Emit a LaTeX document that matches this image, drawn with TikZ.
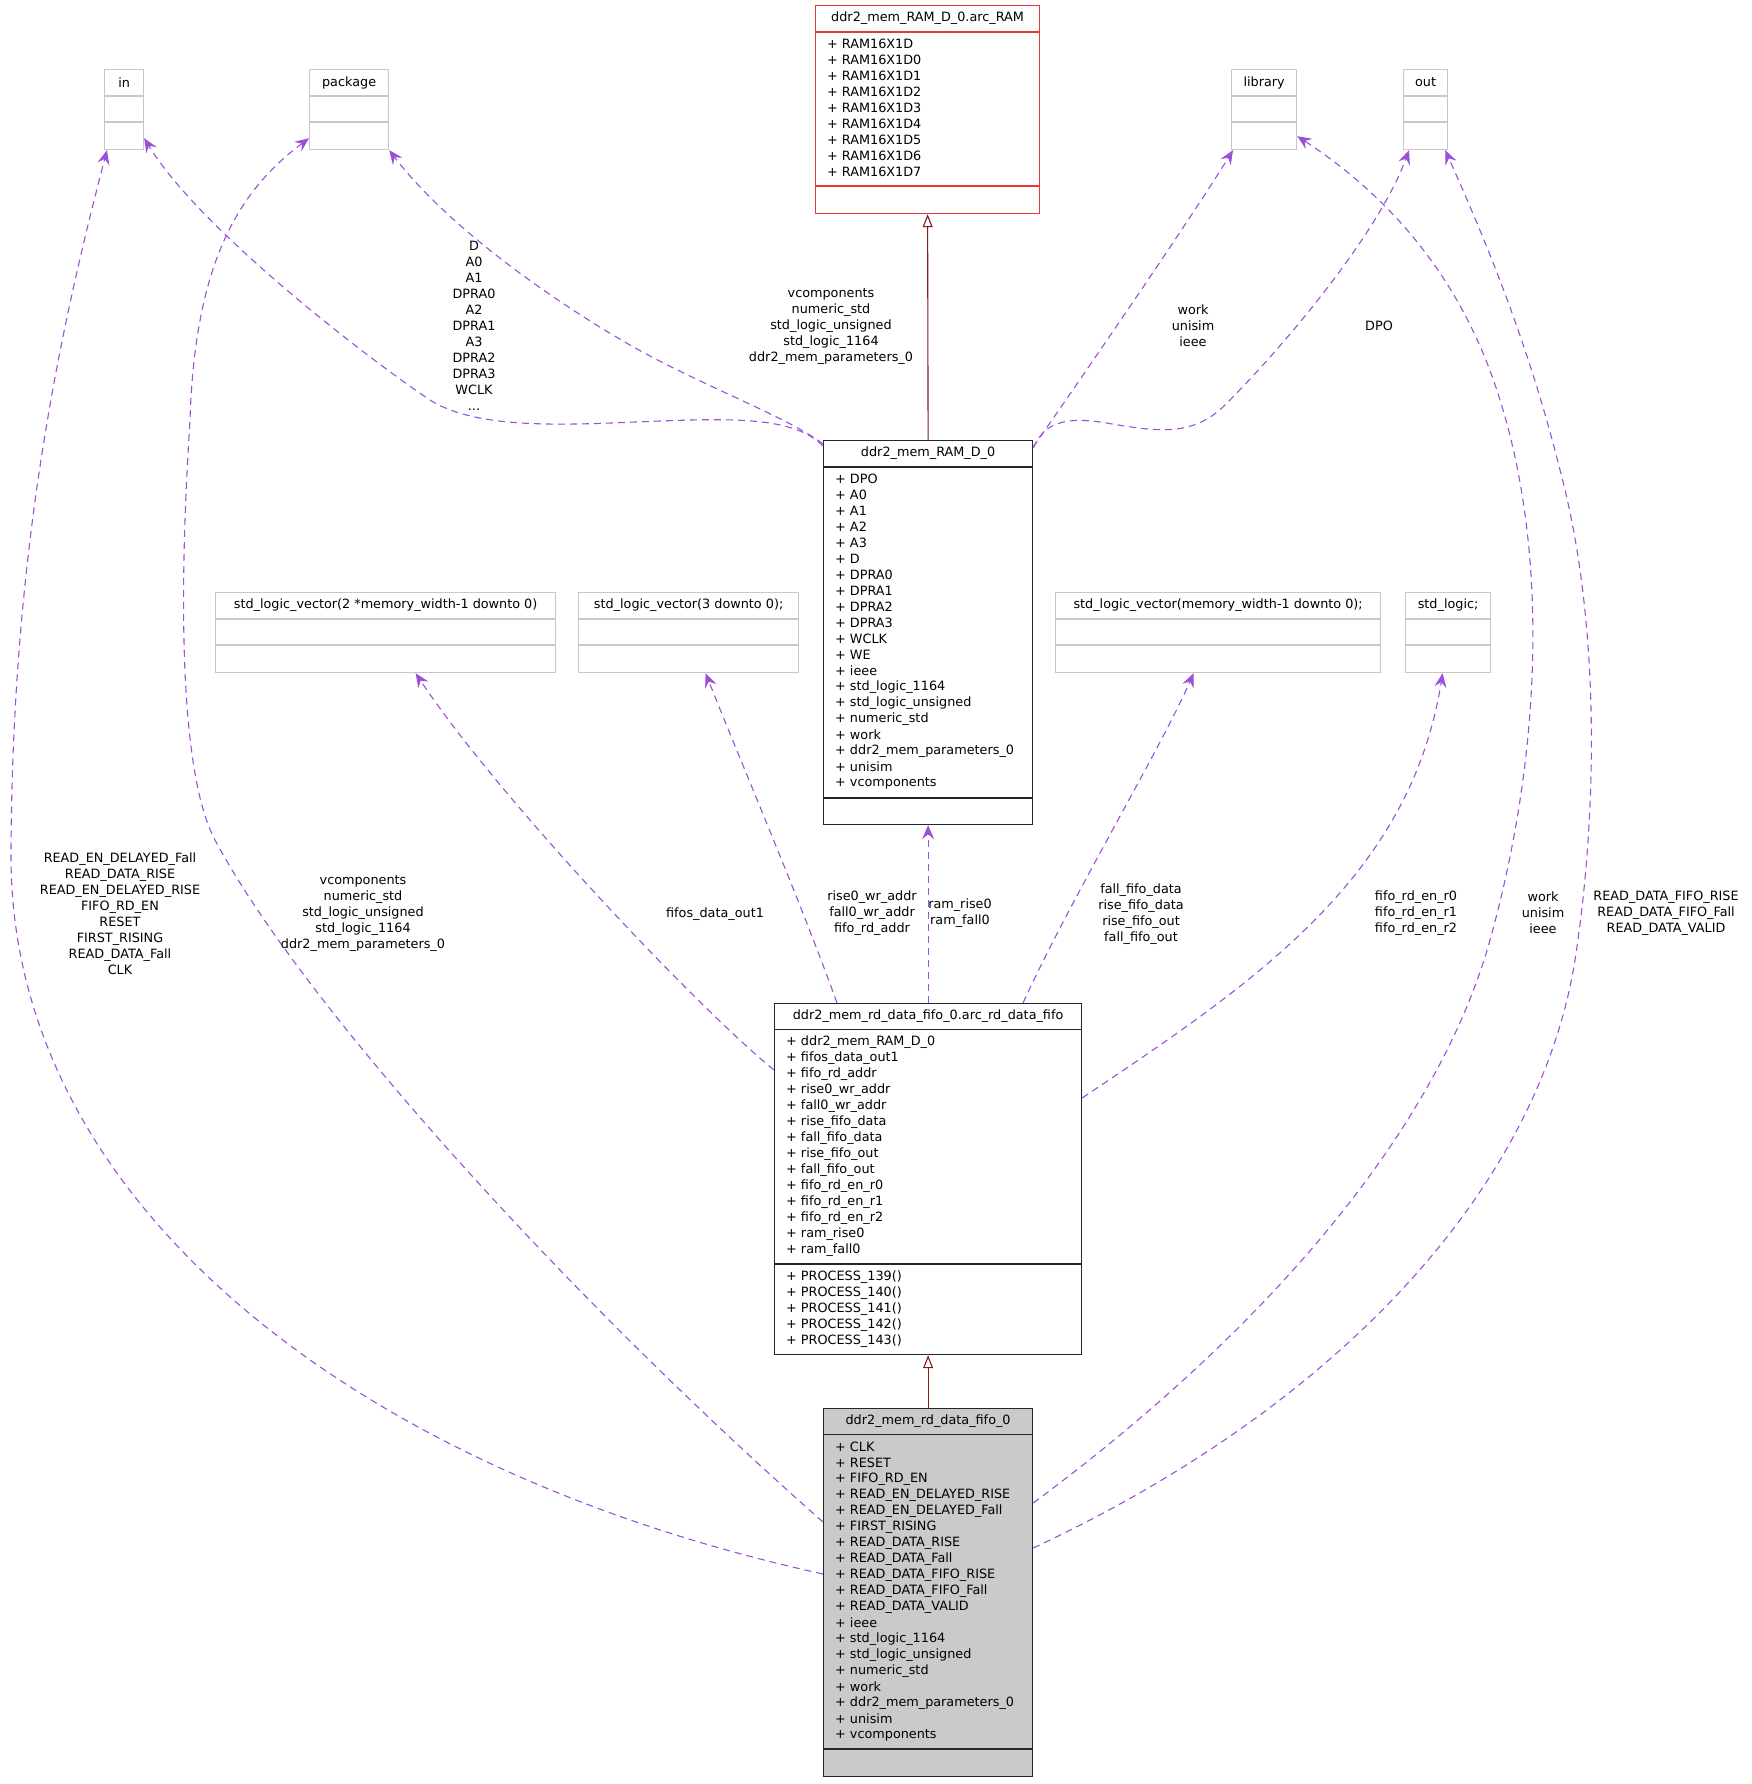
\documentclass[tikz,border=0pt]{standalone}
\usepackage{fontspec}
\setmainfont{DejaVu Sans}
\usetikzlibrary{arrows.meta}
\definecolor{depcol}{HTML}{9A50D9}
\definecolor{inhcol}{HTML}{8B1A1A}
\definecolor{redcol}{HTML}{E53935}
\definecolor{greycol}{HTML}{C8C8C8}
\definecolor{curfill}{HTML}{CACACA}
\tikzset{
  box/.style={draw, line width=1.2pt, inner sep=0pt, anchor=north west},
  greybox/.style={box, draw=greycol},
  redbox/.style={box, draw=redcol},
  blackbox/.style={box, draw=black!85},
  curbox/.style={blackbox, fill=curfill},
  txt/.style={font=\fontsize{12.8}{16}\selectfont, inner sep=0pt},
  attr/.style={txt, anchor=west},
  elabel/.style={txt, align=center},
  usedge/.style={depcol, line width=1.1pt, dash pattern=on 7pt off 5pt,
    -{Stealth[length=14pt,width=12pt,inset=5pt]}},
  inherit/.style={inhcol, line width=1.1pt,
    -{Triangle[open,length=13pt,width=10pt,line width=1.1pt]}}
}

\begin{document}
\begin{tikzpicture}[x=1pt,y=-1pt]
  \useasboundingbox (0,0) rectangle (1751,1784);

  % grey boxes along the top
  \node[greybox, minimum width=39pt, minimum height=80pt] (in) at (104,69) {};
  \node[greybox, minimum width=79pt, minimum height=80pt] (pkg) at (309,69) {};
  \node[greybox, minimum width=65pt, minimum height=80pt] (lib) at (1231,69) {};
  \node[greybox, minimum width=44pt, minimum height=80pt] (out) at (1403,69) {};
  % grey boxes in the middle row
  \node[greybox, minimum width=340pt, minimum height=80pt] (slv2) at (215,592) {};
  \node[greybox, minimum width=220pt, minimum height=80pt] (slv3) at (578,592) {};
  \node[greybox, minimum width=325pt, minimum height=80pt] (slvw) at (1055,592) {};
  \node[greybox, minimum width=85pt, minimum height=80pt] (sl) at (1405,592) {};
  \foreach \b/\t in {in/in, pkg/package, lib/library, out/out,
      slv2/std\_logic\_vector(2 *memory\_width-1 downto 0),
      slv3/std\_logic\_vector(3 downto 0);,
      slvw/std\_logic\_vector(memory\_width-1 downto 0);,
      sl/std\_logic;} {
    \draw[greycol, line width=1.2pt] ([yshift=-27pt]\b.north west) -- ([yshift=-27pt]\b.north east);
    \draw[greycol, line width=1.2pt] ([yshift=-53pt]\b.north west) -- ([yshift=-53pt]\b.north east);
    \node[txt] (\b-title) at ([yshift=-13.5pt]\b.north) {\t};
  }

  % ddr2_mem_RAM_D_0.arc_RAM
  \node[redbox, minimum width=224pt, minimum height=208pt] (arcram) at (815,5) {};
  \draw[redcol, line width=1.2pt] ([yshift=-27pt]arcram.north west) -- ([yshift=-27pt]arcram.north east);
  \draw[redcol, line width=1.2pt] ([yshift=-181pt]arcram.north west) -- ([yshift=-181pt]arcram.north east);
  \node[txt] (arcram-title) at ([yshift=-13.5pt]arcram.north) {ddr2\_mem\_RAM\_D\_0.arc\_RAM};
  \foreach \t [count=\i] in {RAM16X1D, RAM16X1D0, RAM16X1D1, RAM16X1D2, RAM16X1D3,
      RAM16X1D4, RAM16X1D5, RAM16X1D6, RAM16X1D7} {
    \node[attr] (arcram-a\i) at ([xshift=12pt,yshift=-23pt-16pt*\i]arcram.north west) {+ \t};
  }

  % ddr2_mem_RAM_D_0
  \node[blackbox, minimum width=209pt, minimum height=384pt] (ram) at (823,440) {};
  \draw[black!85, line width=1.2pt] ([yshift=-27pt]ram.north west) -- ([yshift=-27pt]ram.north east);
  \draw[black!85, line width=1.2pt] ([yshift=-358pt]ram.north west) -- ([yshift=-358pt]ram.north east);
  \node[txt] (ram-title) at ([yshift=-13.5pt]ram.north) {ddr2\_mem\_RAM\_D\_0};
  \foreach \t [count=\i] in {DPO, A0, A1, A2, A3, D, DPRA0, DPRA1, DPRA2, DPRA3,
      WCLK, WE, ieee, std\_logic\_1164, std\_logic\_unsigned, numeric\_std, work,
      ddr2\_mem\_parameters\_0, unisim, vcomponents} {
    \node[attr] (ram-a\i) at ([xshift=12pt,yshift=-23pt-16pt*\i]ram.north west) {+ \t};
  }

  % ddr2_mem_rd_data_fifo_0.arc_rd_data_fifo
  \node[blackbox, minimum width=307pt, minimum height=351pt] (fifoarc) at (774,1003) {};
  \draw[black!85, line width=1.2pt] ([yshift=-26.5pt]fifoarc.north west) -- ([yshift=-26.5pt]fifoarc.north east);
  \draw[black!85, line width=1.2pt] ([yshift=-261pt]fifoarc.north west) -- ([yshift=-261pt]fifoarc.north east);
  \node[txt] (fifoarc-title) at ([yshift=-13pt]fifoarc.north) {ddr2\_mem\_rd\_data\_fifo\_0.arc\_rd\_data\_fifo};
  \foreach \t [count=\i] in {ddr2\_mem\_RAM\_D\_0, fifos\_data\_out1, fifo\_rd\_addr,
      rise0\_wr\_addr, fall0\_wr\_addr, rise\_fifo\_data, fall\_fifo\_data,
      rise\_fifo\_out, fall\_fifo\_out, fifo\_rd\_en\_r0, fifo\_rd\_en\_r1,
      fifo\_rd\_en\_r2, ram\_rise0, ram\_fall0} {
    \node[attr] (fifoarc-a\i) at ([xshift=12pt,yshift=-23pt-16pt*\i]fifoarc.north west) {+ \t};
  }
  \foreach \n [count=\i] in {139, 140, 141, 142, 143} {
    \node[attr] (fifoarc-m\i) at ([xshift=12pt,yshift=-258pt-16pt*\i]fifoarc.north west) {+ PROCESS\_\n()};
  }

  % ddr2_mem_rd_data_fifo_0
  \node[curbox, minimum width=209pt, minimum height=368pt] (fifo) at (823,1408) {};
  \draw[black!85, line width=1.2pt] ([yshift=-26.5pt]fifo.north west) -- ([yshift=-26.5pt]fifo.north east);
  \draw[black!85, line width=1.2pt] ([yshift=-341pt]fifo.north west) -- ([yshift=-341pt]fifo.north east);
  \node[txt] (fifo-title) at ([yshift=-13pt]fifo.north) {ddr2\_mem\_rd\_data\_fifo\_0};
  \foreach \t [count=\i] in {CLK, RESET, FIFO\_RD\_EN, READ\_EN\_DELAYED\_RISE,
      READ\_EN\_DELAYED\_Fall, FIRST\_RISING, READ\_DATA\_RISE, READ\_DATA\_Fall,
      READ\_DATA\_FIFO\_RISE, READ\_DATA\_FIFO\_Fall, READ\_DATA\_VALID, ieee,
      std\_logic\_1164, std\_logic\_unsigned, numeric\_std, work,
      ddr2\_mem\_parameters\_0, unisim, vcomponents} {
    \node[attr] (fifo-a\i) at ([xshift=12pt,yshift=-23pt-16pt*\i]fifo.north west) {+ \t};
  }

  % inheritance
  \draw[inherit] (ram.north) -- (arcram.south);
  \draw[inherit] (fifo.north) -- (fifoarc.south);

  % usage from ddr2_mem_RAM_D_0
  \draw[usedge] ([yshift=-6pt]ram.north west) .. controls (795,418) and (740,418) .. (660,421)
    .. controls (580,424) and (480,432) .. (430,400)
    .. controls (370,360) and (200,230) .. ([yshift=12pt]in.south east);
  \draw[usedge] ([yshift=-4pt]ram.north west) .. controls (790,418) and (700,385) .. (630,345)
    .. controls (560,305) and (450,230) .. (pkg.south east);
  \draw[usedge] ([yshift=-7pt]ram.north east) .. controls (1080,380) and (1190,220) .. ([xshift=2pt]lib.south west);
  \draw[usedge] ([yshift=-8pt]ram.north east) .. controls (1045,420) and (1070,418) .. (1100,422)
    .. controls (1150,430) and (1190,440) .. (1225,405)
    .. controls (1290,340) and (1380,230) .. ([xshift=6pt]out.south west);

  % usage from ddr2_mem_rd_data_fifo_0
  \draw[usedge] ([yshift=-166pt]fifo.north west) .. controls (350,1470) and (10,1200) .. (11,855)
    .. controls (12,550) and (60,330) .. ([xshift=3pt]in.south west);
  \draw[usedge] ([yshift=-114pt]fifo.north west) .. controls (560,1290) and (300,1000) .. (215,840)
    .. controls (170,755) and (185,500) .. (190,420)
    .. controls (195,260) and (240,190) .. ([yshift=12pt]pkg.south west);
  \draw[usedge] ([yshift=-95pt]fifo.north east) .. controls (1280,1320) and (1440,1120) .. (1490,940)
    .. controls (1540,760) and (1550,560) .. (1500,400)
    .. controls (1460,270) and (1380,190) .. ([yshift=14pt]lib.south east);
  \draw[usedge] ([yshift=-140pt]fifo.north east) .. controls (1350,1400) and (1540,1180) .. (1575,960)
    .. controls (1598,810) and (1600,620) .. (1560,470)
    .. controls (1530,350) and (1490,250) .. ([xshift=-3pt]out.south east);

  % usage from the architecture
  \draw[usedge] ([yshift=-67pt]fifoarc.north west) .. controls (700,1010) and (500,800) .. ([xshift=30pt]slv2.south);
  \draw[usedge] ([xshift=63pt]fifoarc.north west) .. controls (800,900) and (740,760) .. ([xshift=17pt]slv3.south);
  \draw[usedge] (fifoarc.north) -- (ram.south);
  \draw[usedge] ([xshift=249pt]fifoarc.north west) .. controls (1070,900) and (1160,750) .. ([xshift=-24.5pt]slvw.south);
  \draw[usedge] ([yshift=-95pt]fifoarc.north east) .. controls (1250,985) and (1410,880) .. ([xshift=-5.5pt]sl.south);

  % edge labels
  \node[elabel] (lbl-ram-in) at (474,326) {D\\A0\\A1\\DPRA0\\A2\\DPRA1\\A3\\DPRA2\\DPRA3\\WCLK\\...};
  \node[elabel] (lbl-ram-pkg) at (831,327) {vcomponents\\numeric\_std\\std\_logic\_unsigned\\std\_logic\_1164\\ddr2\_mem\_parameters\_0};
  \node[elabel] (lbl-ram-lib) at (1193,326) {work\\unisim\\ieee};
  \node[elabel] (lbl-ram-out) at (1379,326) {DPO};
  \node[elabel] (lbl-fifo-in) at (120,914) {READ\_EN\_DELAYED\_Fall\\READ\_DATA\_RISE\\READ\_EN\_DELAYED\_RISE\\FIFO\_RD\_EN\\RESET\\FIRST\_RISING\\READ\_DATA\_Fall\\CLK};
  \node[elabel] (lbl-fifo-pkg) at (363,914) {vcomponents\\numeric\_std\\std\_logic\_unsigned\\std\_logic\_1164\\ddr2\_mem\_parameters\_0};
  \node[elabel] (lbl-slv2) at (715,914) {fifos\_data\_out1};
  \node[elabel] (lbl-slv3) at (872,913) {rise0\_wr\_addr\\fall0\_wr\_addr\\fifo\_rd\_addr};
  \node[elabel] (lbl-ram) at (960,913) {ram\_rise0\\ram\_fall0};
  \node[elabel] (lbl-slvw) at (1141,914) {fall\_fifo\_data\\rise\_fifo\_data\\rise\_fifo\_out\\fall\_fifo\_out};
  \node[elabel] (lbl-sl) at (1416,913) {fifo\_rd\_en\_r0\\fifo\_rd\_en\_r1\\fifo\_rd\_en\_r2};
  \node[elabel] (lbl-fifo-lib) at (1543,913) {work\\unisim\\ieee};
  \node[elabel] (lbl-fifo-out) at (1666,913) {READ\_DATA\_FIFO\_RISE\\READ\_DATA\_FIFO\_Fall\\READ\_DATA\_VALID};
\end{tikzpicture}
\end{document}
